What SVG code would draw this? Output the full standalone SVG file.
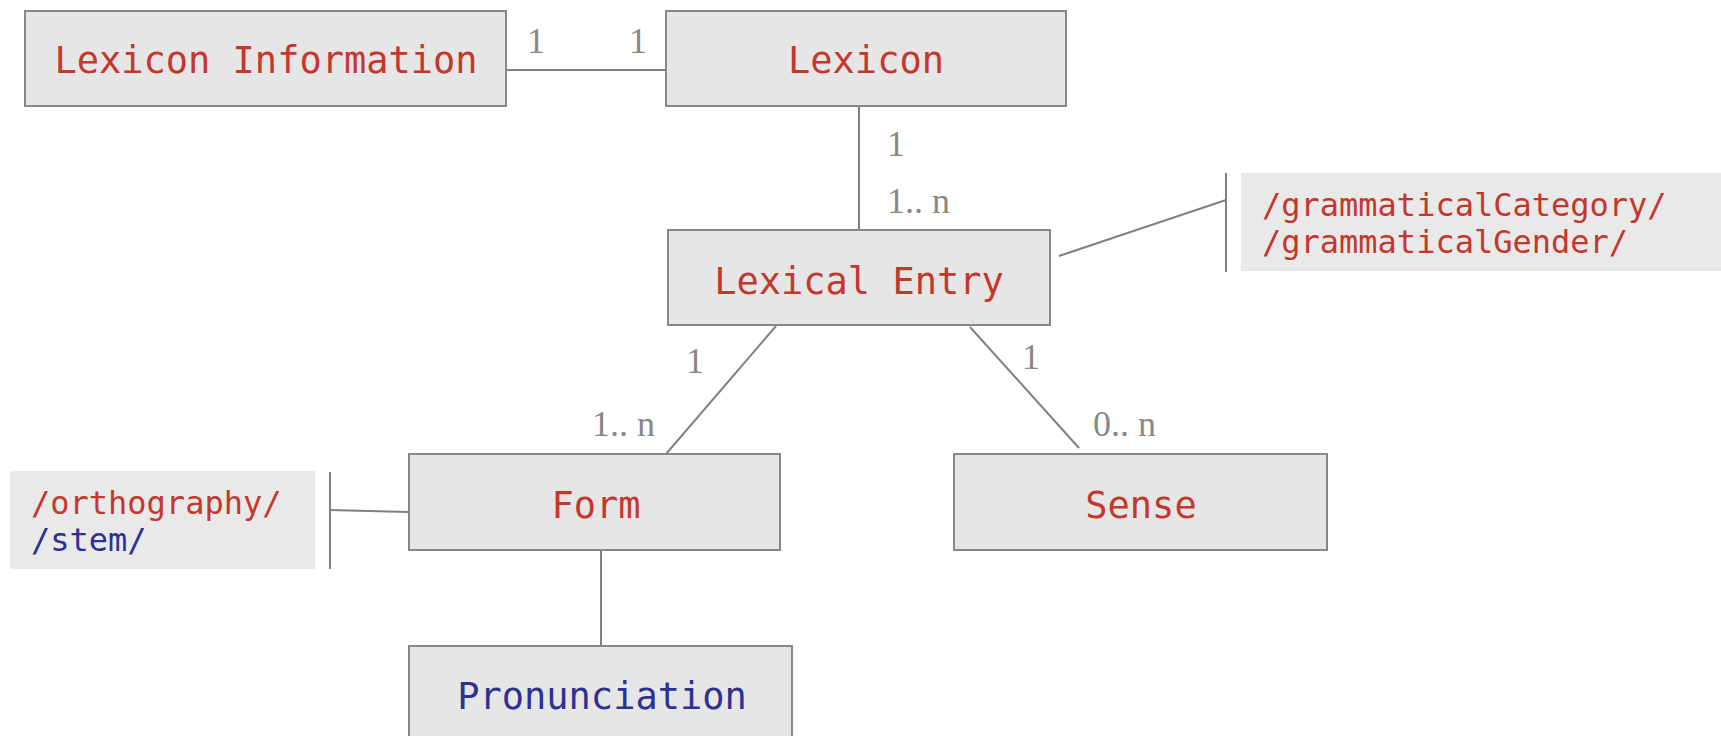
<svg xmlns="http://www.w3.org/2000/svg" width="1721" height="736" viewBox="0 0 1721 736">
  <style>
    .box { fill: #e6e6e6; stroke: #888888; stroke-width: 2; }
    .note { fill: #e9e9e9; }
    .link { fill: none; stroke: #808080; stroke-width: 2; }
    .name { font-family: "DejaVu Sans Mono", monospace; font-size: 37px; text-anchor: middle; }
    .attr { font-family: "DejaVu Sans Mono", monospace; font-size: 32px; }
    .red { fill: #c4372c; }
    .blue { fill: #2e3192; }
    .card { font-family: "Liberation Serif", serif; font-size: 36px; fill: #888888; }
  </style>
  <rect width="1721" height="736" fill="#ffffff"/>

  <g id="connectors">
    <line class="link" x1="506" y1="70" x2="666" y2="70"/>
    <line class="link" x1="859" y1="106" x2="859" y2="230"/>
    <line class="link" x1="776" y1="326" x2="666" y2="454"/>
    <line class="link" x1="970" y1="327" x2="1079" y2="448"/>
    <line class="link" x1="601" y1="550" x2="601" y2="646"/>
    <line class="link" x1="1059" y1="256" x2="1226" y2="200"/>
    <line class="link" x1="1226" y1="173" x2="1226" y2="272"/>
    <line class="link" x1="408" y1="512" x2="330" y2="510"/>
    <line class="link" x1="330" y1="472" x2="330" y2="569"/>
    <text class="card" x="527" y="53">1</text>
    <text class="card" x="629" y="53">1</text>
    <text class="card" x="887" y="156">1</text>
    <text class="card" x="887" y="213">1.. n</text>
    <text class="card" x="686" y="373">1</text>
    <text class="card" x="592" y="436">1.. n</text>
    <text class="card" x="1022" y="369">1</text>
    <text class="card" x="1093" y="436">0.. n</text>
  </g>

  <g id="lexicon-information">
    <rect class="box" x="25" y="11" width="481" height="95"/>
    <text class="name red" x="266" y="73">Lexicon Information</text>
  </g>

  <g id="lexicon">
    <rect class="box" x="666" y="11" width="400" height="95"/>
    <text class="name red" x="866" y="73">Lexicon</text>
  </g>

  <g id="lexical-entry">
    <rect class="box" x="668" y="230" width="382" height="95"/>
    <text class="name red" x="859" y="294">Lexical Entry</text>
  </g>

  <g id="lexical-entry-attributes">
    <rect class="note" x="1241" y="173" width="480" height="98"/>
    <text class="attr red" x="1262" y="216">/grammaticalCategory/</text>
    <text class="attr red" x="1262" y="253">/grammaticalGender/</text>
  </g>

  <g id="form">
    <rect class="box" x="409" y="454" width="371" height="96"/>
    <text class="name red" x="596" y="518">Form</text>
  </g>

  <g id="form-attributes">
    <rect class="note" x="10" y="471" width="305" height="98"/>
    <text class="attr red" x="31" y="514">/orthography/</text>
    <text class="attr blue" x="31" y="551">/stem/</text>
  </g>

  <g id="sense">
    <rect class="box" x="954" y="454" width="373" height="96"/>
    <text class="name red" x="1141" y="518">Sense</text>
  </g>

  <g id="pronunciation">
    <rect class="box" x="409" y="646" width="383" height="100"/>
    <text class="name blue" x="602" y="709">Pronunciation</text>
  </g>
</svg>
